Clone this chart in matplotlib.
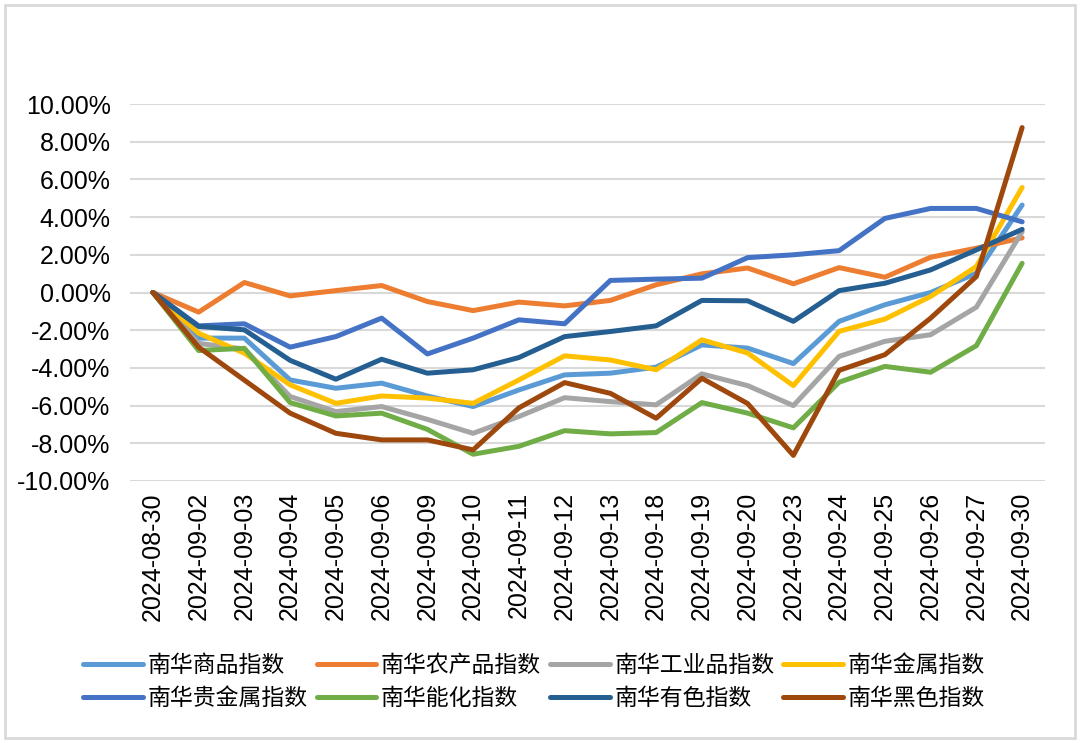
import matplotlib.pyplot as plt
from matplotlib.patches import Rectangle
from matplotlib.ticker import FuncFormatter

plt.rcParams['font.family'] = ['Liberation Sans', 'Noto Sans CJK SC', 'DejaVu Sans']

dates = ['2024-08-30', '2024-09-02', '2024-09-03', '2024-09-04', '2024-09-05',
         '2024-09-06', '2024-09-09', '2024-09-10', '2024-09-11', '2024-09-12',
         '2024-09-13', '2024-09-18', '2024-09-19', '2024-09-20', '2024-09-23',
         '2024-09-24', '2024-09-25', '2024-09-26', '2024-09-27', '2024-09-30']

# values in percent
commodity = [0, -2.42, -2.42, -4.64, -5.08, -4.81, -5.49, -6.05, -5.17, -4.37,
             -4.28, -3.96, -2.78, -2.95, -3.77, -1.53, -0.65, 0.0, 1.02, 4.64]
agri = [0, -1.04, 0.53, -0.18, 0.10, 0.37, -0.48, -0.96, -0.51, -0.71,
        -0.42, 0.41, 0.99, 1.30, 0.46, 1.32, 0.81, 1.87, 2.35, 2.90]
industrial = [0, -2.70, -3.00, -5.52, -6.32, -6.05, -6.73, -7.47, -6.58, -5.58,
              -5.79, -5.96, -4.32, -4.94, -6.00, -3.39, -2.59, -2.24, -0.78, 3.23]
metal = [0, -2.16, -3.22, -4.90, -5.88, -5.49, -5.60, -5.88, -4.64, -3.36,
         -3.58, -4.10, -2.51, -3.21, -4.94, -2.06, -1.41, -0.21, 1.38, 5.57]
precious = [0, -1.77, -1.66, -2.90, -2.34, -1.36, -3.26, -2.42, -1.45, -1.66,
            0.64, 0.71, 0.76, 1.85, 2.00, 2.22, 3.93, 4.46, 4.46, 3.75]
energy = [0, -3.08, -2.96, -5.84, -6.55, -6.40, -7.26, -8.58, -8.16, -7.33,
          -7.50, -7.43, -5.84, -6.40, -7.18, -4.76, -3.92, -4.23, -2.82, 1.55]
nonferrous = [0, -1.80, -1.98, -3.60, -4.60, -3.54, -4.28, -4.10, -3.45, -2.34,
              -2.07, -1.77, -0.42, -0.44, -1.53, 0.10, 0.49, 1.20, 2.26, 3.35]
ferrous = [0, -2.90, -4.65, -6.40, -7.47, -7.82, -7.82, -8.35, -6.12, -4.78,
           -5.35, -6.67, -4.55, -5.89, -8.64, -4.13, -3.30, -1.36, 0.85, 8.75]

series = [
    ('南华商品指数', commodity, '#5B9BD5'),
    ('南华农产品指数', agri, '#ED7D31'),
    ('南华工业品指数', industrial, '#A5A5A5'),
    ('南华金属指数', metal, '#FFC000'),
    ('南华贵金属指数', precious, '#4472C4'),
    ('南华能化指数', energy, '#70AD47'),
    ('南华有色指数', nonferrous, '#255E91'),
    ('南华黑色指数', ferrous, '#9E480E'),
]

fig = plt.figure(figsize=(10.8, 7.43), dpi=100)
ax = fig.add_axes([130 / 1080, 1 - 481 / 743, 915 / 1080, 377 / 743])

x = range(len(dates))
for name, vals, color in series:
    ax.plot(x, vals, color=color, lw=3.6, label=name, solid_joinstyle='round', solid_capstyle='round')

ax.set_xlim(-0.5, len(dates) - 0.5)
ax.set_ylim(-10, 10)
ax.set_yticks(range(-10, 11, 2))
ax.yaxis.set_major_formatter(FuncFormatter(lambda v, p: f'{v:.2f}%'))
ax.set_xticks(list(x))
ax.set_xticklabels(dates, rotation=90)
ax.tick_params(axis='y', length=0, pad=14, labelsize=18)
ax.tick_params(axis='x', length=0, pad=8, labelsize=18)
ax.grid(axis='y', color='#D9D9D9', lw=1.5)
ax.set_axisbelow(True)
for s in ax.spines.values():
    s.set_visible(False)

# legend reads row by row, matplotlib fills column by column
handles, labels = ax.get_legend_handles_labels()
order = [0, 4, 1, 5, 2, 6, 3, 7]
fig.legend([handles[i] for i in order], [labels[i] for i in order], ncol=4, loc='center',
           bbox_to_anchor=(534 / 1080, 1 - 682 / 743),
           frameon=False, prop={'family': 'Noto Sans CJK SC', 'size': 16.5},
           handlelength=2.6, handletextpad=0.2, columnspacing=0.4, labelspacing=0.45)

fig.patches.append(Rectangle((5 / 1080, 5 / 743), 1070 / 1080, 733 / 743, transform=fig.transFigure,
                             fill=False, edgecolor='#D9D9D9', lw=2))

fig.savefig('out.png', dpi=100)
